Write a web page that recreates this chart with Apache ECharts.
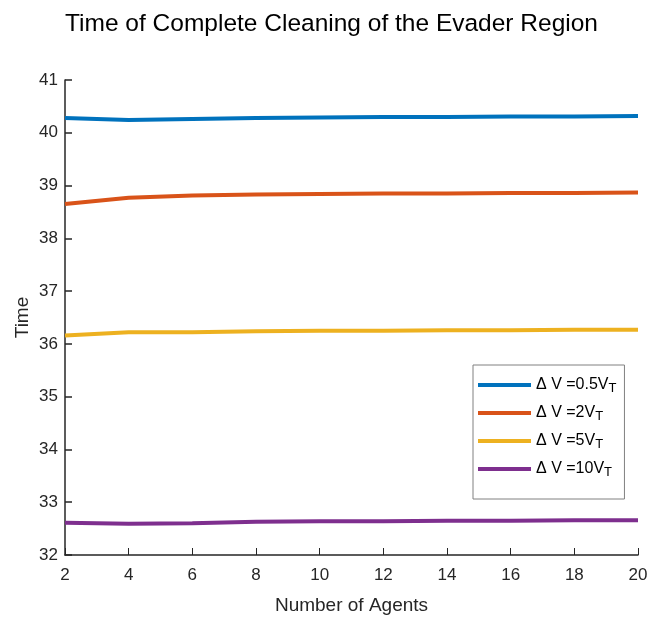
<!DOCTYPE html>
<html><head><meta charset="utf-8">
<script src="https://cdn.jsdelivr.net/npm/echarts@6/dist/echarts.min.js"></script>
<style>html,body{margin:0;padding:0;background:#fff}#c{width:663px;height:617px}</style>
</head><body><div id="c"></div>
<script>
const agents = [2, 4, 6, 8, 10, 12, 14, 16, 18, 20];
const dv05 = [40.28, 40.24, 40.26, 40.28, 40.29, 40.30, 40.30, 40.31, 40.31, 40.32];
const dv2  = [38.65, 38.77, 38.81, 38.83, 38.84, 38.85, 38.85, 38.86, 38.86, 38.87];
const dv5  = [36.16, 36.22, 36.22, 36.24, 36.25, 36.25, 36.26, 36.26, 36.27, 36.27];
const dv10 = [32.61, 32.59, 32.60, 32.63, 32.64, 32.64, 32.65, 32.65, 32.66, 32.66];
const seriesNames = ['0.5', '2', '5', '10'];
const colors = ['#0072BD', '#D95319', '#EDB120', '#7E2F8E'];
const FONT = 'Liberation Sans';
const TXT = '#262626';

const allData = [dv05, dv2, dv5, dv10];
const chart = echarts.init(document.getElementById('c'));
chart.setOption({
  animation: false,
  backgroundColor: '#fff',
  title: {
    text: 'Time of Complete Cleaning of the Evader Region',
    left: 'center', top: 7,
    textStyle: { fontFamily: FONT, fontSize: 24.5, fontWeight: 'normal', color: '#000' }
  },
  grid: { left: 65, right: 25, top: 80, bottom: 62, outerBoundsMode: 'none', containLabel: false },
  xAxis: {
    type: 'value', min: 2, max: 20, interval: 2,
    name: 'Number of Agents', nameLocation: 'middle', nameGap: 41,
    nameTextStyle: { fontFamily: FONT, fontSize: 19, color: TXT },
    axisLine: { show: true, onZero: false, lineStyle: { color: TXT, width: 1.5 } },
    axisTick: { show: true, inside: true, length: 7, lineStyle: { color: TXT, width: 1 } },
    axisLabel: { fontFamily: FONT, fontSize: 17, color: TXT, margin: 12 },
    splitLine: { show: false }
  },
  yAxis: {
    type: 'value', min: 32, max: 41, interval: 1,
    name: 'Time', nameLocation: 'middle', nameGap: 33, nameMoveOverlap: false,
    nameTextStyle: { fontFamily: FONT, fontSize: 19, color: TXT },
    axisLine: { show: true, onZero: false, lineStyle: { color: TXT, width: 1.5 } },
    axisTick: { show: true, inside: true, length: 7, lineStyle: { color: TXT, width: 1.5 } },
    axisLabel: { fontFamily: FONT, fontSize: 17, color: TXT, margin: 7 },
    splitLine: { show: false }
  },
  legend: {
    orient: 'vertical', left: 473, top: 365,
    backgroundColor: '#fff',
    borderColor: '#808080', borderWidth: 1, borderRadius: 0,
    padding: [7, 8, 20, 5],
    itemWidth: 53, itemHeight: 4, itemGap: 5,
    icon: 'rect',
    data: seriesNames.map(n => 'ΔV' + n),
    formatter: function (name) {
      return '{a|Δ V =' + name.slice(2) + 'V}{s|T}';
    },
    textStyle: {
      fontFamily: FONT, color: '#000', fontSize: 16,
      rich: {
        a: { fontFamily: FONT, fontSize: 16, color: '#000', lineHeight: 20, verticalAlign: 'middle' },
        s: { fontFamily: FONT, fontSize: 13, color: '#000', lineHeight: 20, verticalAlign: 'bottom', padding: [10, 0, 0, 0] }
      }
    }
  },
  series: allData.map((d, i) => ({
    name: 'ΔV' + seriesNames[i],
    type: 'line',
    data: agents.map((a, j) => [a, d[j]]),
    showSymbol: false,
    lineStyle: { color: colors[i], width: 4 },
    itemStyle: { color: colors[i] },
    color: colors[i]
  }))
});
</script>
</body></html>
